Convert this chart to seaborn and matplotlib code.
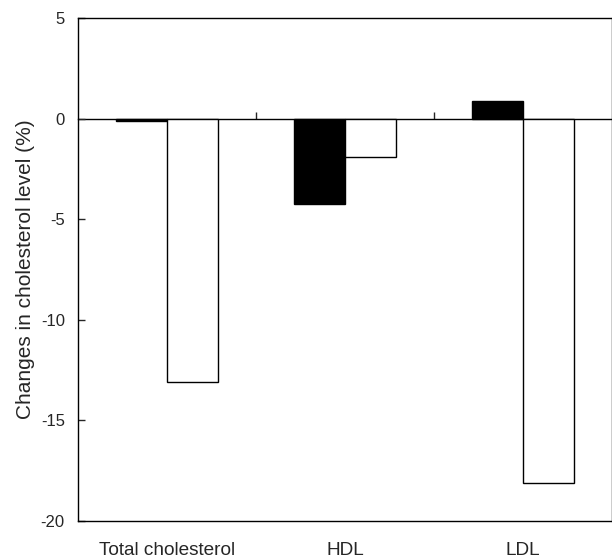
import matplotlib
matplotlib.use('Agg')
import matplotlib.pyplot as plt
import seaborn as sns
import pandas as pd

# values
categories = ['Total cholesterol', 'HDL', 'LDL']
group_1 = [-0.1, -4.25, 0.9]     # black bars
group_2 = [-13.1, -1.9, -18.1]   # white bars
y_ticks = [5, 0, -5, -10, -15, -20]

df = pd.DataFrame({
    'category': categories * 2,
    'group': ['Group 1'] * 3 + ['Group 2'] * 3,
    'change': group_1 + group_2,
})

sns.set_style('white')
plt.rcParams['font.family'] = ['Liberation Sans', 'DejaVu Sans']

fig = plt.figure(figsize=(6.12, 5.58), dpi=100)
ax = fig.add_axes([0.1275, 0.0663, 0.8725, 0.9014])

sns.barplot(data=df, x='category', y='change', hue='group',
            palette=['black', 'white'], edgecolor='black', linewidth=1,
            width=0.57, gap=0, legend=False, ax=ax)

ymin, ymax = -20, 5
ax.set_ylim(ymin, ymax)
ax.set_xlim(-0.5, len(categories) - 0.5)
ax.set_yticks(y_ticks)
ax.set_yticklabels([str(t) for t in y_ticks])
ax.set_xlabel('')
ax.set_ylabel('Changes in cholesterol level (%)', fontsize=15, labelpad=4)

ax.tick_params(axis='y', direction='in', length=5, width=1, pad=9.5,
               labelsize=12, left=True)
ax.tick_params(axis='x', length=0, pad=15, labelsize=13.7)

for side in ['left', 'top', 'bottom', 'right']:
    ax.spines[side].set_visible(True)
    ax.spines[side].set_color('black')
    ax.spines[side].set_linewidth(1)

# zero line acts as the category axis with separator ticks pointing up
zero_pos = (0 - ymin) / (ymax - ymin)
zax = ax.secondary_xaxis(zero_pos)
zax.set_xticks([i + 0.5 for i in range(len(categories) - 1)])
zax.set_xticklabels([])
zax.tick_params(direction='out', length=5, width=1)
for s in zax.spines.values():
    s.set_linewidth(1)
    s.set_color('black')

fig.savefig('out.png', dpi=100)
